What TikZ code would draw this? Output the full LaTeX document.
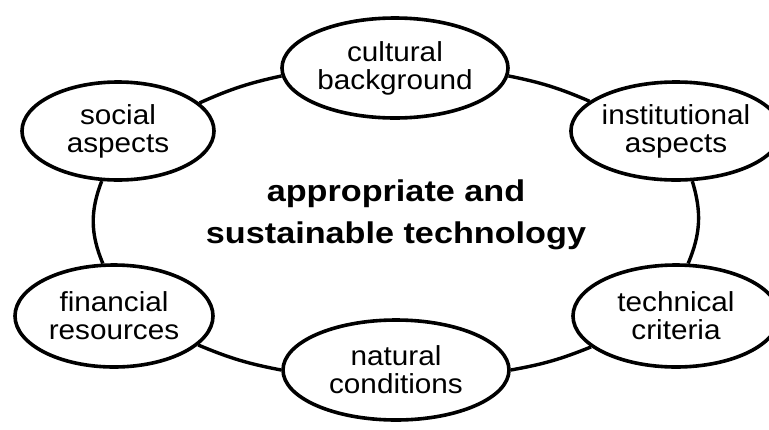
\documentclass[tikz,border=0pt]{standalone}
\usepackage{fontspec}
\setmainfont{Liberation Sans}[FakeStretch=1.08]
\newfontfamily\centerfont{Liberation Sans}[FakeStretch=1.14]
\usetikzlibrary{shapes.geometric}
\tikzset{
  topic/.style={ellipse, draw=black, line width=3.6pt, fill=white, inner sep=0pt,
    align=center, font=\fontsize{27.5}{28}\selectfont},
  link/.style={draw=black, line width=3.4pt},
  title/.style={align=center, font=\centerfont\bfseries\fontsize{30}{42}\selectfont}
}
\begin{document}
\begin{tikzpicture}[x=1pt,y=-1pt]
\useasboundingbox (0,0) rectangle (769,429);
\clip (0,0) rectangle (769,429);
\node[topic, minimum width=192pt, minimum height=98pt] (social) at (118,131) {social\\aspects};
\node[topic, minimum width=226pt, minimum height=100pt] (cultural) at (395,68) {cultural\\background};
\node[topic, minimum width=202pt, minimum height=98pt] (institutional) at (676,131) {institutional\\aspects};
\node[topic, minimum width=198pt, minimum height=102pt] (financial) at (114,316) {financial\\resources};
\node[topic, minimum width=206pt, minimum height=102pt] (technical) at (676,316) {technical\\criteria};
\node[topic, minimum width=226pt, minimum height=100pt] (natural) at (396,370) {natural\\conditions};
\node[title] (center) at (396,215) {appropriate and\\sustainable technology};
\draw[link] (social.19) to[bend left=6] (cultural.184);
\draw[link] (cultural.356) to[bend left=6] (institutional.161);
\draw[link] (social.252) to[bend right=22] (financial.102);
\draw[link] (institutional.288) to[bend left=20] (technical.77);
\draw[link] (financial.341) to[bend right=6] (natural.180);
\draw[link] (technical.200) to[bend left=6] (natural.0);
\end{tikzpicture}
\end{document}
